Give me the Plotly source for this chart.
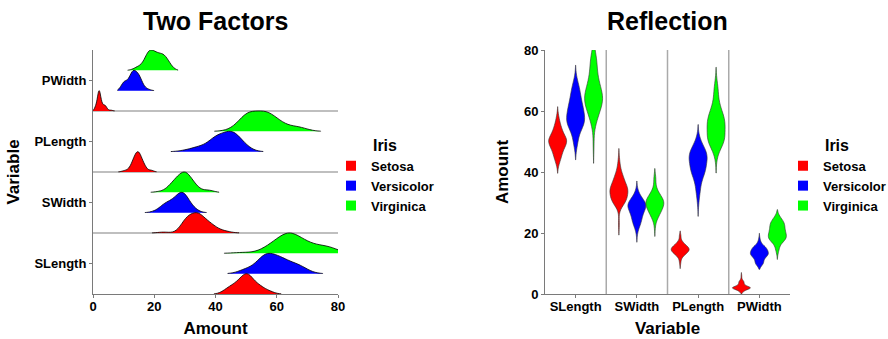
import numpy as np
import plotly.graph_objects as go

# Iris data (mm)
variables = ["SLength", "SWidth", "PLength", "PWidth"]
species = ["Setosa", "Versicolor", "Virginica"]
colors = ["#FF0000", "#0000FF", "#00FF00"]

setosa_slength = [51,49,47,46,50,54,46,50,44,49,54,48,48,43,58,57,54,51,57,51,54,51,46,51,48,50,50,52,52,47,48,54,52,55,49,50,55,49,44,51,50,45,44,50,51,48,51,46,53,50]
setosa_swidth = [35,30,32,31,36,39,34,34,29,31,37,34,30,30,40,44,39,35,38,38,34,37,36,33,34,30,34,35,34,32,31,34,41,42,31,32,35,31,30,34,35,23,32,35,38,30,38,32,37,33]
setosa_plength = [14,14,13,15,14,17,14,15,14,15,15,16,14,11,12,15,13,14,17,15,17,15,10,17,19,16,16,15,14,16,16,15,15,14,15,12,13,15,13,15,13,13,13,16,19,14,16,14,15,14]
setosa_pwidth = [2,2,2,2,2,4,3,2,2,1,2,2,1,1,2,4,4,3,3,3,2,4,2,5,2,2,4,2,2,2,2,4,1,2,1,2,2,1,2,2,3,3,2,6,4,3,2,2,2,2]

versicolor_slength = [70,64,69,55,65,57,63,49,66,52,50,59,60,61,56,67,56,58,62,56,59,61,63,61,64,66,68,67,60,57,55,55,58,60,54,60,67,63,56,55,55,61,58,50,56,57,57,62,51,57]
versicolor_swidth = [32,32,31,23,28,28,33,24,29,27,20,30,22,29,29,31,30,27,22,25,32,28,25,28,29,30,28,30,29,26,24,24,27,27,30,34,31,23,30,25,26,30,26,23,27,30,29,29,25,28]
versicolor_plength = [47,45,49,40,46,45,47,33,46,39,35,42,40,47,36,44,45,41,45,39,48,40,49,47,43,44,48,50,45,35,38,37,39,51,45,45,47,44,41,40,44,46,40,33,42,42,42,43,30,41]
versicolor_pwidth = [14,15,15,13,15,13,16,10,13,14,10,15,10,14,13,14,15,10,15,11,18,13,15,12,13,14,14,17,15,10,11,10,12,16,15,16,15,13,13,13,12,14,12,10,13,12,13,13,11,13]

virginica_slength = [63,58,71,63,65,76,49,73,67,72,65,64,68,57,58,64,65,77,77,60,69,56,77,63,67,72,62,61,64,72,74,79,64,63,61,77,63,64,60,69,67,69,58,68,67,67,63,65,62,59]
virginica_swidth = [33,27,30,29,30,30,25,29,25,36,32,27,30,25,28,32,30,38,26,22,32,28,28,27,33,32,28,30,28,30,28,38,28,28,26,30,34,31,30,31,31,31,27,32,33,30,25,30,34,30]
virginica_plength = [60,51,59,56,58,66,45,63,58,61,51,53,55,50,51,53,55,67,69,50,57,49,67,49,57,60,48,49,56,58,61,64,56,51,56,61,56,55,48,54,56,51,51,59,57,52,50,52,54,51]
virginica_pwidth = [25,19,21,18,22,21,17,18,18,25,20,19,21,20,24,23,18,22,23,15,23,20,20,18,21,18,18,18,21,16,19,20,22,15,14,23,24,18,18,21,24,23,19,23,25,23,19,20,23,18]

data = {
    "Setosa": [setosa_slength, setosa_swidth, setosa_plength, setosa_pwidth],
    "Versicolor": [versicolor_slength, versicolor_swidth, versicolor_plength, versicolor_pwidth],
    "Virginica": [virginica_slength, virginica_swidth, virginica_plength, virginica_pwidth],
}


def bw(vals):
    # normal-reference kernel bandwidth (std based)
    a = np.asarray(vals, dtype=float)
    return float(1.06 * a.std(ddof=1) * len(a) ** -0.2)


FONT = "Liberation Sans, Arial, sans-serif"
AXC = "#7a7a7a"
fig = go.Figure()

# ---- Left: ridgelines ----
for k in reversed(range(3)):
    sp = species[k]
    for b, var in enumerate(variables):
        fig.add_trace(go.Violin(
            x=data[sp][b], y0=b + k / 3, orientation="h", side="positive",
            width=2 / 3, scalemode="width", scalegroup=f"L-{sp}-{var}",
            bandwidth=bw(data[sp][b]),
            fillcolor=colors[k], opacity=1,
            line=dict(color="black", width=0.8), points=False,
            box_visible=False, meanline_visible=False, showlegend=False,
            hoverinfo="skip", xaxis="x", yaxis="y",
        ))

# ---- Right: violins (one trace per violin, each scaled on its own) ----
for k, sp in enumerate(species):
    for b, var in enumerate(variables):
        fig.add_trace(go.Violin(
            x=[var] * len(data[sp][b]), y=data[sp][b], name=sp, offsetgroup=sp,
            scalegroup=f"R-{sp}-{var}", scalemode="width",
            bandwidth=bw(data[sp][b]),
            fillcolor=colors[k], opacity=1,
            line=dict(color="#333333", width=0.6), points=False,
            box_visible=False, meanline_visible=False, showlegend=False,
            hoverinfo="skip", xaxis="x2", yaxis="y2",
        ))

# legend entries
for k, sp in enumerate(species):
    for lg, ax in (("legend", ("x", "y")), ("legend2", ("x2", "y2"))):
        fig.add_trace(go.Scatter(
            x=[None], y=[None], mode="markers", name=sp, legend=lg,
            marker=dict(symbol="square", size=10, color=colors[k], line=dict(width=0)),
            xaxis=ax[0], yaxis=ax[1],
        ))

W, H = 888, 339
L0, L1 = 93 / W, 338 / W
R0, R1 = 545 / W, 790 / W
Y0, Y1 = 1 - 294 / H, 1 - 50 / H

tickfont = dict(family=FONT, size=13, color="black", weight="bold")
titlefont = dict(family=FONT, size=17, color="black", weight="bold")

shapes = []
for yv in (1, 2, 3):
    shapes.append(dict(type="line", xref="x", yref="y", x0=0, x1=80, y0=yv, y1=yv,
                       line=dict(color="#aaaaaa", width=1.5), layer="below"))
for xv in (0.5, 1.5, 2.5):
    shapes.append(dict(type="line", xref="x2", yref="y2", x0=xv, x1=xv, y0=0, y1=80,
                       line=dict(color="#aaaaaa", width=1.5), layer="below"))

legend_common = dict(
    font=dict(family=FONT, size=13, color="black", weight="bold"),
    bgcolor="rgba(0,0,0,0)", xanchor="left", yanchor="top",
    itemclick=False, itemdoubleclick=False,
)
ltitle = dict(text="Iris", side="top center",
              font=dict(family=FONT, size=16, color="black", weight="bold"))

axis_common = dict(showgrid=False, zeroline=False, showline=True, linecolor=AXC,
                   linewidth=1, ticks="outside", ticklen=3, tickcolor=AXC,
                   tickfont=tickfont, automargin=False)

fig.update_layout(
    width=W, height=H, margin=dict(l=0, r=0, t=0, b=0, autoexpand=False),
    paper_bgcolor="white", plot_bgcolor="white",
    violinmode="group", violingap=0.12, violingroupgap=0.0,
    xaxis=dict(domain=[L0, L1], range=[0, 80], tickvals=[0, 20, 40, 60, 80],
               ticklabelstandoff=-3,
               title=dict(text="Amount", font=titlefont, standoff=9), **axis_common),
    yaxis=dict(domain=[Y0, Y1], range=[0, 4], tickvals=[0.5, 1.5, 2.5, 3.5],
               ticktext=variables,
               title=dict(text="Variable", font=titlefont, standoff=10), **axis_common),
    xaxis2=dict(domain=[R0, R1], type="category", categoryorder="array",
                categoryarray=variables, range=[-0.5, 3.5], anchor="y2",
                ticklabelstandoff=-3,
                title=dict(text="Variable", font=titlefont, standoff=9), **axis_common),
    yaxis2=dict(domain=[Y0, Y1], range=[0, 80], tickvals=[0, 20, 40, 60, 80],
                anchor="x2",
                title=dict(text="Amount", font=titlefont, standoff=10), **axis_common),
    legend=dict(x=331 / W, y=1 - 130 / H, title=ltitle, **legend_common),
    legend2=dict(x=783 / W, y=1 - 130 / H, title=ltitle, **legend_common),
    shapes=shapes,
    annotations=[
        dict(text="Two Factors", x=(L0 + L1) / 2, y=1 - 21 / H, xref="paper", yref="paper",
             showarrow=False, font=dict(family=FONT, size=25, color="black", weight="bold"),
             xanchor="center", yanchor="middle"),
        dict(text="Reflection", x=(R0 + R1) / 2, y=1 - 21 / H, xref="paper", yref="paper",
             showarrow=False, font=dict(family=FONT, size=25, color="black", weight="bold"),
             xanchor="center", yanchor="middle"),
    ],
)

fig.write_html("out.html")
